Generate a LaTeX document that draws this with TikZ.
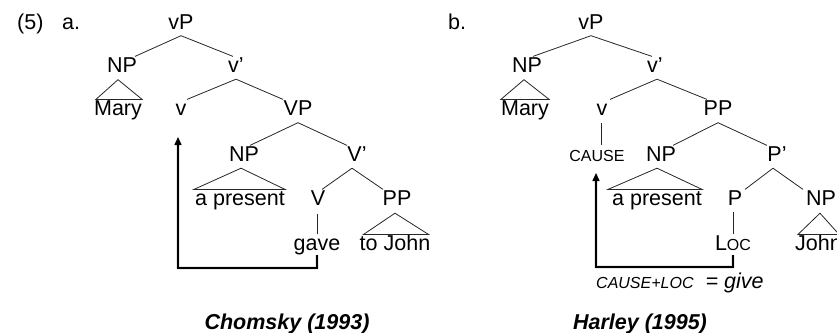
\documentclass[tikz,border=0pt]{standalone}
\usepackage{fontspec}
\setmainfont{Liberation Sans}
\usetikzlibrary{arrows.meta}

\begin{document}
\begin{tikzpicture}[x=1pt,y=-1pt,
  lbl/.style={inner sep=0pt,anchor=base,font=\fontsize{21.5}{24}\selectfont,
              text height=15.4pt,text depth=4.5pt},
  smcap/.style={inner sep=0pt,anchor=base,font=\fontsize{16}{18}\selectfont,
              text height=11.5pt,text depth=3.4pt},
  title/.style={inner sep=0pt,anchor=base,font=\fontsize{21.5}{24}\selectfont\bfseries\itshape},
  branch/.style={line width=0.8pt,draw=black!85},
  roof/.style={line width=0.8pt,draw=black!85,line join=miter},
  movearrow/.style={line width=1.5pt,draw=black,-{Triangle[length=8pt,width=7pt]}},
  moveshade/.style={line width=#1,draw=black,opacity=0.09,xshift=1.5pt,yshift=-2.5pt,line join=round}
]
\useasboundingbox (0,0) rectangle (837,332);
\clip (0,0) rectangle (837,332);

% ---------------- (5a) ----------------
\node[lbl,anchor=base west] (num) at (17,29) {(5)};
\node[lbl,anchor=base west] (alab) at (62,29) {a.};

\node[lbl] (vPa)   at (181,29)  {vP};
\node[lbl] (NPa)   at (122,72)  {NP};
\node[lbl] (vbara) at (236,72)  {v’};
\node[lbl] (Marya) at (118,115) {Mary};
\node[lbl] (va)    at (181,115) {v};
\node[lbl] (VPa)   at (298,115) {VP};
\node[lbl] (NPa2)  at (244,161) {NP};
\node[lbl] (Vbara) at (357,161) {V’};
\node[lbl] (presa) at (240,205) {a present};
\node[lbl] (Va)    at (318,205) {V};
\node[lbl] (PPa)   at (397,205) {PP};
\node[lbl] (gave)  at (317,250) {gave};
\node[lbl] (toJohn) at (395,250) {to John};
\node[title] (chom) at (287,329) {Chomsky (1993)};

\draw[branch] ([yshift=-2pt]vPa.south) -- ([xshift=13pt]NPa.north);
\draw[branch] ([yshift=-2pt]vPa.south) -- ([xshift=-3pt]vbara.north);
\draw[branch] ([yshift=-2.5pt]vbara.south) -- ([xshift=6pt]va.north);
\draw[branch] ([yshift=-2.5pt]vbara.south) -- ([xshift=-15pt]VPa.north);
\draw[branch] ([yshift=-3pt]VPa.south) -- ([xshift=6pt]NPa2.north);
\draw[branch] ([yshift=-3pt]VPa.south) -- ([xshift=-10pt]Vbara.north);
\draw[branch] ([xshift=-5pt,yshift=-2.5pt]Vbara.south) -- ([xshift=4pt]Va.north);
\draw[branch] ([xshift=-5pt,yshift=-2.5pt]Vbara.south) -- ([xshift=-14pt]PPa.north);
\draw[branch] (gave.north) -- ++(0,-20);

\draw[roof] ([xshift=-4pt,yshift=-3pt]NPa.south) -- ([xshift=2pt]Marya.north west)
            -- (Marya.north east) -- cycle;
\draw[roof] ([xshift=-3pt,yshift=-2.5pt]NPa2.south) -- ([xshift=-1pt]presa.north west)
            -- (presa.north east) -- cycle;
\draw[roof] ([xshift=-2pt,yshift=-3.5pt]PPa.south) -- ([xshift=4pt]toJohn.north west)
            -- ([xshift=-2pt]toJohn.north east) -- cycle;

% head movement of V to v, with a soft shadow under the path
\coordinate (cornA) at (317,268);
\coordinate (tipA)  at (178,140);
\foreach \w in {4pt,2.5pt}
  \draw[moveshade=\w] (gave.south) -- (gave.south |- cornA) -| (tipA);
\draw[movearrow] (gave.south) -- (gave.south |- cornA) -| ([yshift=3pt]tipA);

% ---------------- (5b) ----------------
\node[lbl,anchor=base west] (blab) at (448,29) {b.};

\node[lbl] (vPb)   at (591,29)  {vP};
\node[lbl] (NPb)   at (527,72)  {NP};
\node[lbl] (vbarb) at (655,72)  {v’};
\node[lbl] (Maryb) at (525,115) {Mary};
\node[lbl] (vb)    at (602,115) {v};
\node[lbl] (PPb)   at (718,115) {PP};
\node[smcap] (cause) at (597,161) {CAUSE};
\node[lbl] (NPb2)  at (661,161) {NP};
\node[lbl] (Pbarb) at (777,161) {P’};
\node[lbl] (presb) at (657,205) {a present};
\node[lbl] (Pb)    at (735,205) {P};
\node[lbl] (NPb3)  at (821,205) {NP};
\node[lbl] (loc)   at (733,250) {L{\fontsize{16}{18}\selectfont OC}};
\node[lbl,anchor=base west] (John) at (795,250) {John};
\node[inner sep=0pt,anchor=base west,font=\fontsize{21.5}{24}\selectfont\itshape] (give) at (596,288)
  {{\fontsize{16}{18}\selectfont CAUSE+LOC}\hspace{12pt}= give};
\node[title] (harl) at (640,329) {Harley (1995)};

\draw[branch] ([yshift=-2pt]vPb.south) -- ([xshift=6pt]NPb.north);
\draw[branch] ([yshift=-2pt]vPb.south) -- ([xshift=-3pt]vbarb.north);
\draw[branch] ([xshift=2pt,yshift=-2.5pt]vbarb.south) -- ([xshift=8pt]vb.north);
\draw[branch] ([xshift=2pt,yshift=-2.5pt]vbarb.south) -- ([xshift=-11pt]PPb.north);
\draw[branch] ([yshift=-3pt]PPb.south) -- ([xshift=12pt]NPb2.north);
\draw[branch] ([yshift=-3pt]PPb.south) -- ([xshift=-10pt]Pbarb.north);
\draw[branch] ([xshift=-4pt,yshift=-2.5pt]Pbarb.south) -- ([xshift=10pt]Pb.north);
\draw[branch] ([xshift=-4pt,yshift=-2.5pt]Pbarb.south) -- ([xshift=-18pt]NPb3.north);
\draw[branch] ([xshift=-1pt,yshift=-3.5pt]vb.south) -- ++(0,22);
\draw[branch] (loc.north) -- ++(0,-22);

\draw[roof] ([xshift=-3pt,yshift=-3pt]NPb.south) -- (Maryb.north west)
            -- (Maryb.north east) -- cycle;
\draw[roof] ([xshift=-4pt,yshift=-2.5pt]NPb2.south) -- ([xshift=-4pt]presb.north west)
            -- (presb.north east) -- cycle;
\draw[roof] ([xshift=-1pt,yshift=-3.5pt]NPb3.south) -- ([xshift=3pt]John.north west)
            -- ([xshift=-3pt]John.north east) -- cycle;

% CAUSE and LOC conflated into one head, with a soft shadow under the path
\coordinate (cornB) at (734,267);
\coordinate (tipB)  at (596,176);
\foreach \w in {4pt,2.5pt}
  \draw[moveshade=\w] (loc.south) -- (loc.south |- cornB) -| (tipB);
\draw[movearrow] (loc.south) -- (loc.south |- cornB) -| ([yshift=3pt]tipB);
\end{tikzpicture}
\end{document}
